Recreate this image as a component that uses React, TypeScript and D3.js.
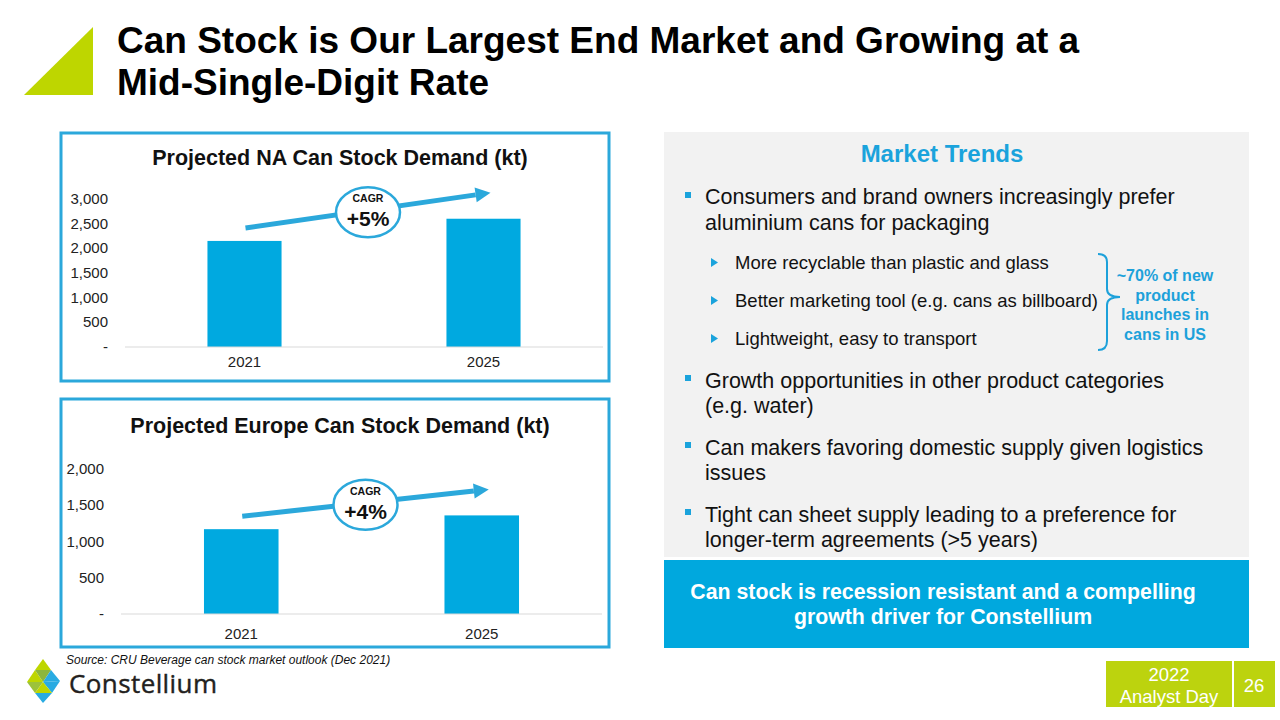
import React from "react";
import * as d3 from "d3";

const years = ["2021", "2025"];
const naDemand = [2150, 2600];
const euDemand = [1170, 1360];
const naTicks = [0, 500, 1000, 1500, 2000, 2500, 3000];
const euTicks = [0, 500, 1000, 1500, 2000];
const naCagr = "+5%";
const euCagr = "+4%";

const titleLines = ["Can Stock is Our Largest End Market and Growing at a", "Mid-Single-Digit Rate"];
const mainBullets = [
  ["Consumers and brand owners increasingly prefer", "aluminium cans for packaging"],
];
const subBullets = [
  "More recyclable than plastic and glass",
  "Better marketing tool (e.g. cans as billboard)",
  "Lightweight, easy to transport",
];
const laterBullets = [
  ["Growth opportunities in other product categories", "(e.g. water)"],
  ["Can makers favoring domestic supply given logistics", "issues"],
  ["Tight can sheet supply leading to a preference for", "longer-term agreements (>5 years)"],
];
const bracketNote = ["~70% of new", "product", "launches in", "cans in US"];
const callout = ["Can stock is recession resistant and a compelling", "growth driver for Constellium"];

const BLUE = "#00A9E0";
const BORDER = "#2BA8DB";
const LIME = "#BED600";
const FONT = "'Liberation Sans', Arial, sans-serif";

type ChartProps = {
  title: string;
  values: number[];
  ticks: number[];
  cagr: string;
  box: [number, number, number, number];
  titleY: number;
  yRange: [number, number];
  xRange: [number, number];
  labelX: number;
  yearY: number;
};

function BarChart(p: ChartProps) {
  const [bx, by, bw, bh] = p.box;
  const maxT = p.ticks[p.ticks.length - 1];
  const y = d3.scaleLinear().domain([0, maxT]).range(p.yRange);
  const x = d3.scaleBand<string>().domain(years).range(p.xRange).padding(0);
  const barW = x.bandwidth() * 0.31;
  const fmt = d3.format(",");
  const cx = (i: number) => (x(years[i]) as number) + x.bandwidth() / 2;
  const sx = cx(0) + 1, sy = y(p.values[0]) - 13;
  const ex = cx(1) + 7, ey = y(p.values[1]) - 26;
  const ang = Math.atan2(ey - sy, ex - sx);
  const head = 15, hw = 7.5;
  const bxp = ex - head * Math.cos(ang), byp = ey - head * Math.sin(ang);
  const nx = -Math.sin(ang), ny = Math.cos(ang);
  const mx = (sx + ex) / 2, my = (sy + ey) / 2 + 2;
  return (
    <g>
      <rect x={bx} y={by} width={bw} height={bh} fill="#fff" stroke={BORDER} strokeWidth={3} />
      <text x={bx + bw / 2 + 5} y={p.titleY} textAnchor="middle" fontFamily={FONT} fontWeight="bold" fontSize={21.5} fill="#111">
        {p.title}
      </text>
      {p.ticks.map((t) => (
        <text key={t} x={p.labelX} y={y(t) + 5} textAnchor="end" fontFamily={FONT} fontSize={15} fill="#222">
          {t === 0 ? "-" : fmt(t)}
        </text>
      ))}
      {p.values.map((v, i) => (
        <rect key={i} x={cx(i) - barW / 2} y={y(v)} width={barW} height={y(0) - y(v)} fill={BLUE} />
      ))}
      <line x1={p.xRange[0]} x2={p.xRange[1]} y1={y(0)} y2={y(0)} stroke="#D9D9D9" strokeWidth={1} />
      {years.map((yr, i) => (
        <text key={yr} x={cx(i)} y={p.yearY} textAnchor="middle" fontFamily={FONT} fontSize={15} fill="#222">
          {yr}
        </text>
      ))}
      <line x1={sx} y1={sy} x2={bxp} y2={byp} stroke={BORDER} strokeWidth={5} />
      <polygon
        points={`${ex},${ey} ${bxp + nx * hw},${byp + ny * hw} ${bxp - nx * hw},${byp - ny * hw}`}
        fill={BORDER}
      />
      <ellipse cx={mx} cy={my} rx={32} ry={25} fill="#fff" stroke={BORDER} strokeWidth={2.5} />
      <text x={mx} y={my - 10} textAnchor="middle" fontFamily={FONT} fontWeight="bold" fontSize={10.5} fill="#111">
        CAGR
      </text>
      <text x={mx} y={my + 14} textAnchor="middle" fontFamily={FONT} fontWeight="bold" fontSize={21} fill="#111">
        {p.cagr}
      </text>
    </g>
  );
}

function Logo() {
  const tris: [number[][], string][] = [
    [[[43, 659], [35, 670], [51, 670]], "#BED600"],
    [[[35, 670], [27, 682], [43, 682]], "#BED600"],
    [[[35, 670], [51, 670], [43, 682]], "#8CB63C"],
    [[[51, 670], [43, 682], [60, 681]], "#29ABE2"],
    [[[27, 682], [43, 682], [35, 693]], "#9CC23B"],
    [[[43, 682], [60, 681], [52, 693]], "#29ABE2"],
    [[[43, 682], [35, 693], [52, 693]], "#BED600"],
    [[[35, 693], [52, 693], [43, 703]], "#29ABE2"],
  ];
  return (
    <g>
      {tris.map(([pts, c], i) => (
        <polygon key={i} points={pts.map((q) => q.join(",")).join(" ")} fill={c} />
      ))}
      <text x={69} y={693} fontFamily="'Open Sans', sans-serif" fontSize={26} fill="#231F20" stroke="#231F20" strokeWidth={0.4} textLength={148}>
        Constellium
      </text>
    </g>
  );
}

export default function App() {
  const tx = 705;
  return (
    <svg width={1280} height={720} style={{ position: "absolute", left: 0, top: 0, background: "#fff" }}>
      <rect x={0} y={0} width={1280} height={720} fill="#fff" />
      <polygon points="24,95 93,27 93,95" fill={LIME} />
      {titleLines.map((l, i) => (
        <text key={i} x={117} y={53 + i * 42} fontFamily={FONT} fontWeight="bold" fontSize={37} fill="#000">
          {l}
        </text>
      ))}

      <BarChart
        title="Projected NA Can Stock Demand (kt)"
        values={naDemand}
        ticks={naTicks}
        cagr={naCagr}
        box={[61, 133, 548, 248]}
        titleY={165}
        yRange={[347, 199]}
        xRange={[125, 603]}
        labelX={108}
        yearY={367}
      />
      <BarChart
        title="Projected Europe Can Stock Demand (kt)"
        values={euDemand}
        ticks={euTicks}
        cagr={euCagr}
        box={[61, 399, 548, 248]}
        titleY={433}
        yRange={[614, 469]}
        xRange={[121, 602]}
        labelX={104}
        yearY={639}
      />

      <text x={66} y={663.5} fontFamily={FONT} fontStyle="italic" fontSize={12} fill="#111">
        Source: CRU Beverage can stock market outlook (Dec 2021)
      </text>
      <Logo />

      <rect x={664} y={132} width={585} height={425} fill="#F2F2F2" />
      <text x={942} y={162} textAnchor="middle" fontFamily={FONT} fontWeight="bold" fontSize={24} fill="#1AA3DC">
        Market Trends
      </text>
      {mainBullets.map((b, i) => (
        <g key={i}>
          <rect x={685} y={192} width={6} height={6} fill="#1AA3DC" />
          {b.map((l, j) => (
            <text key={j} x={tx} y={204 + j * 26} fontFamily={FONT} fontSize={21.5} fill="#111">
              {l}
            </text>
          ))}
        </g>
      ))}
      {subBullets.map((s, i) => (
        <g key={i}>
          <polygon points={`${711},${258 + i * 38} ${718},${262.5 + i * 38} ${711},${267 + i * 38}`} fill="#1AA3DC" />
          <text x={735} y={268.5 + i * 38} fontFamily={FONT} fontSize={18.5} fill="#111">
            {s}
          </text>
        </g>
      ))}
      {laterBullets.map((b, i) => {
        const y0 = 388 + i * 67;
        return (
          <g key={i}>
            <rect x={685} y={y0 - 13} width={6} height={6} fill="#1AA3DC" />
            {b.map((l, j) => (
              <text key={j} x={tx} y={y0 + j * 25} fontFamily={FONT} fontSize={21.5} fill="#111">
                {l}
              </text>
            ))}
          </g>
        );
      })}
      <path
        d="M1098,254 Q1107,254 1107,262 L1107,289 Q1107,297 1120,297 Q1107,297 1107,305 L1107,341 Q1107,350 1098,350"
        fill="none"
        stroke="#1DA1DA"
        strokeWidth={2}
      />
      {bracketNote.map((l, i) => (
        <text key={i} x={1165} y={281 + i * 19.5} textAnchor="middle" fontFamily={FONT} fontWeight="bold" fontSize={16} fill="#1DA1DA">
          {l}
        </text>
      ))}

      <rect x={664} y={560} width={585} height={88} fill="#00A8DE" />
      {callout.map((l, i) => (
        <text key={i} x={943} y={599 + i * 25} textAnchor="middle" fontFamily={FONT} fontWeight="bold" fontSize={21.3} fill="#fff">
          {l}
        </text>
      ))}

      <rect x={1106} y={661} width={126} height={46} fill="#BCD30E" />
      <rect x={1234} y={661} width={41} height={46} fill="#BCD30E" />
      <text x={1169} y={681} textAnchor="middle" fontFamily={FONT} fontSize={18.5} fill="#fff">2022</text>
      <text x={1169} y={703} textAnchor="middle" fontFamily={FONT} fontSize={18.5} fill="#fff">Analyst Day</text>
      <text x={1254} y={692} textAnchor="middle" fontFamily={FONT} fontSize={18.5} fill="#fff">26</text>
    </svg>
  );
}
